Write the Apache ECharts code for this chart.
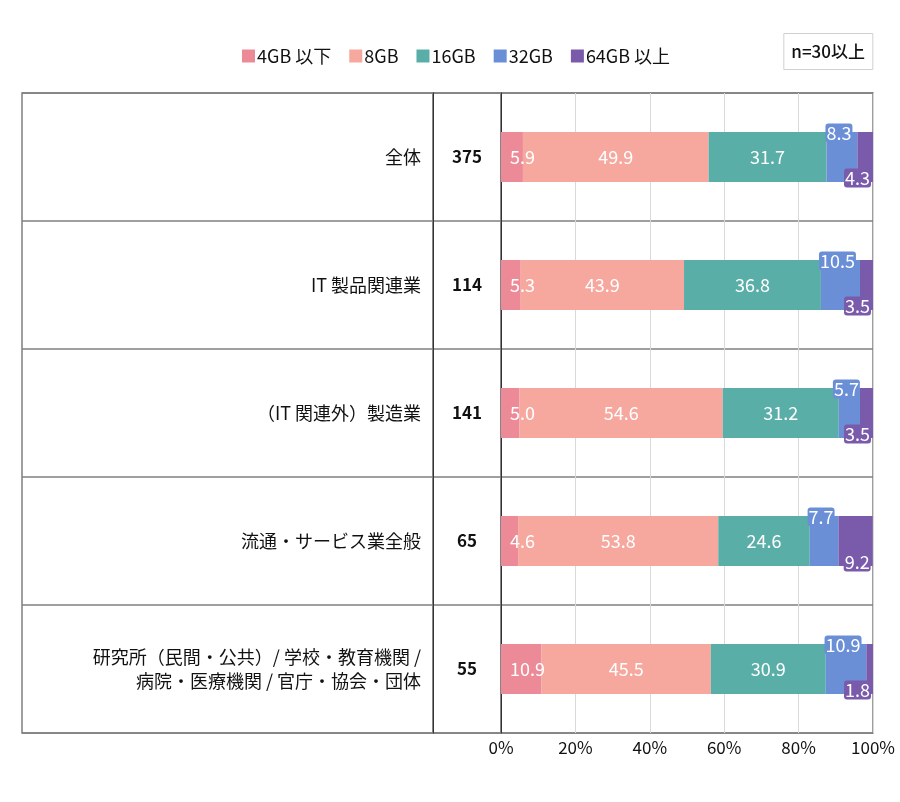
<!DOCTYPE html>
<html>
<head>
<meta charset="utf-8">
<script src="https://cdn.jsdelivr.net/npm/echarts@6/dist/echarts.min.js"></script>
<style>
  html, body { margin: 0; padding: 0; background: #fff; }
  #chart { width: 900px; height: 802px; }
</style>
</head>
<body>
<div id="chart"></div>
<script>
// data
const categories = [
  "全体",
  "IT 製品関連業",
  "（IT 関連外）製造業",
  "流通・サービス業全般",
  "研究所（民間・公共）/ 学校・教育機関 /\n病院・医療機関 / 官庁・協会・団体"
];
const counts = [375, 114, 141, 65, 55];
const seriesNames = ["4GB 以下", "8GB", "16GB", "32GB", "64GB 以上"];
const gb4 = [5.9, 5.3, 5.0, 4.6, 10.9];
const gb8 = [49.9, 43.9, 54.6, 53.8, 45.5];
const gb16 = [31.7, 36.8, 31.2, 24.6, 30.9];
const gb32 = [8.3, 10.5, 5.7, 7.7, 10.9];
const gb64 = [4.3, 3.5, 3.5, 9.2, 1.8];
const xTicks = [0, 20, 40, 60, 80, 100];

const colors = ["#ec8b97", "#f7a89e", "#5aaea8", "#6a8fd6", "#7a5bab"];
const font = "'Noto Sans CJK JP', 'Noto Sans', sans-serif";
const borderGray = "#7f7f7f";

const chart = echarts.init(document.getElementById("chart"));

const gridTop = 93, gridBottom = 69;

function labelFor(i) {
  const base = {
    show: true,
    color: "#fff",
    fontFamily: font,
    fontSize: 18,
    formatter: p => p.value.toFixed(1)
  };
  if (i === 0) {
    return Object.assign(base, { position: "insideLeft", distance: 9 });
  }
  if (i === 3) {
    return Object.assign(base, {
      position: ["50%", 0], align: "center", verticalAlign: "middle",
      offset: [-3, 1], backgroundColor: colors[3], borderRadius: 3, padding: [0, 1], lineHeight: 19
    });
  }
  if (i === 4) {
    return Object.assign(base, {
      position: ["100%", "100%"], align: "right", verticalAlign: "middle",
      offset: [-2, -4], backgroundColor: colors[4], borderRadius: 3, padding: [0, 1], lineHeight: 19
    });
  }
  return Object.assign(base, { position: "inside" });
}

const values = [gb4, gb8, gb16, gb32, gb64];

const option = {
  animation: false,
  textStyle: { fontFamily: font },
  title: {
    text: "n=30以上",
    right: 27,
    top: 33,
    padding: [10, 8, 10, 8],
    borderColor: "#d0d0d0",
    borderWidth: 1,
    textStyle: { fontSize: 17, fontWeight: 500, color: "#111", fontFamily: font }
  },
  legend: {
    data: seriesNames,
    left: 237,
    top: 42,
    icon: "rect",
    itemWidth: 13,
    itemHeight: 13,
    itemGap: 18,
    textStyle: { fontSize: 18, color: "#111", fontFamily: font, padding: [0, 0, 0, -3] }
  },
  grid: [
    { left: 22, width: 411, top: gridTop, bottom: gridBottom, show: true, borderColor: borderGray, borderWidth: 1.5 },
    { left: 433, width: 68, top: gridTop, bottom: gridBottom, show: true, borderColor: borderGray, borderWidth: 1.5 },
    { left: 501, right: 27, top: gridTop, bottom: gridBottom, show: true, borderColor: borderGray, borderWidth: 1.5 }
  ],
  xAxis: [
    { gridIndex: 0, type: "value", show: false },
    { gridIndex: 1, type: "value", show: false },
    {
      gridIndex: 2,
      type: "value",
      min: xTicks[0],
      max: xTicks[xTicks.length - 1],
      interval: 20,
      axisLine: { show: false },
      axisTick: { show: false },
      splitLine: { show: true, lineStyle: { color: "#d9d9d9", width: 1 } },
      axisLabel: {
        formatter: "{value}%",
        fontSize: 17,
        color: "#111",
        margin: 6,
        fontFamily: font
      }
    }
  ],
  yAxis: [
    {
      gridIndex: 0,
      type: "category",
      inverse: true,
      data: categories,
      axisLine: { show: false },
      axisTick: { show: false },
      axisLabel: { show: false },
      splitLine: { show: true, lineStyle: { color: borderGray, width: 1.5 } }
    },
    {
      gridIndex: 1,
      type: "category",
      inverse: true,
      data: categories,
      axisLine: { show: true, lineStyle: { color: "#333", width: 1 } },
      axisTick: { show: false },
      axisLabel: { show: false },
      splitLine: { show: true, lineStyle: { color: borderGray, width: 1.5 } }
    },
    {
      gridIndex: 2,
      type: "category",
      inverse: true,
      data: categories,
      axisLine: { show: true, lineStyle: { color: "#333", width: 1 } },
      axisTick: { show: false },
      splitLine: { show: true, lineStyle: { color: borderGray, width: 1.5 } },
      axisLabel: {
        margin: 80,
        fontSize: 18,
        lineHeight: 24,
        color: "#111",
        align: "right",
        fontFamily: font
      }
    },
    {
      gridIndex: 2,
      type: "category",
      inverse: true,
      position: "left",
      data: counts.map(String),
      axisLine: { show: false },
      axisTick: { show: false },
      splitLine: { show: false },
      axisLabel: {
        margin: 34,
        align: "center",
        fontSize: 17,
        fontWeight: 600,
        color: "#111",
        fontFamily: font
      }
    }
  ],
  series: seriesNames.map((name, i) => ({
    name: name,
    type: "bar",
    stack: "total",
    xAxisIndex: 2,
    yAxisIndex: 2,
    barWidth: 50,
    data: values[i],
    itemStyle: { color: colors[i] },
    label: labelFor(i),
    z: i === 3 ? 3 : (i === 4 ? 4 : 2)
  }))
};

chart.setOption(option);
</script>
</body>
</html>
